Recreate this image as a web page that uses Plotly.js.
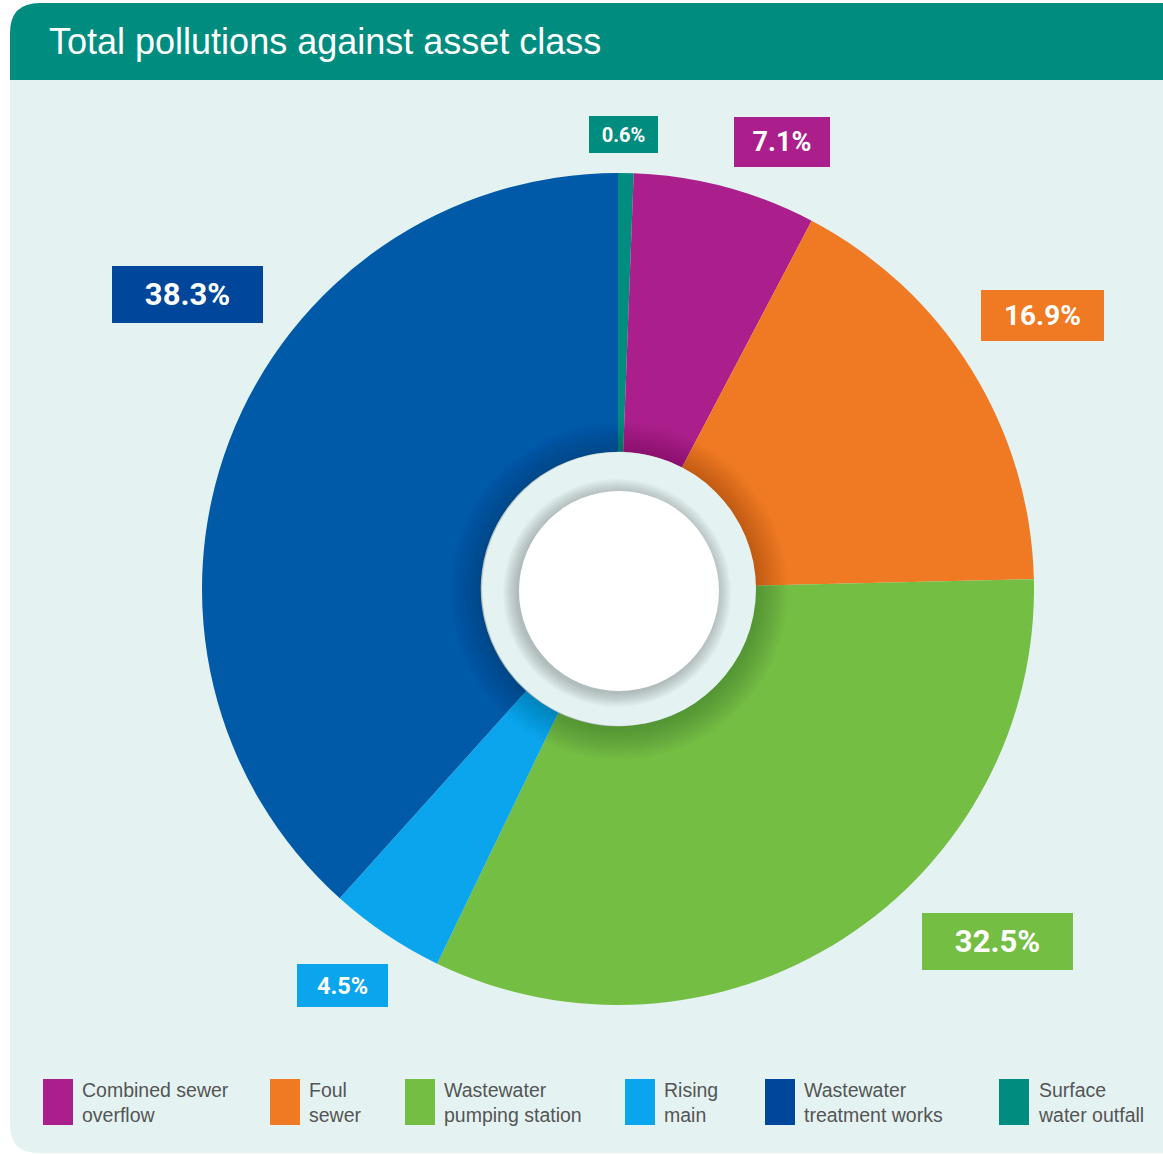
<!DOCTYPE html>
<html>
<head>
<meta charset="utf-8">
<script src="https://cdn.plot.ly/plotly-3.0.1.min.js"></script>
<style>
html,body{margin:0;padding:0;background:#ffffff;}
#chart{width:1163px;height:1154px;}
</style>
</head>
<body>
<div id="chart"></div>
<script>
// ---- data ----
const categories = ["Combined sewer overflow", "Foul sewer", "Wastewater pumping station", "Rising main", "Wastewater treatment works", "Surface water outfall"];
const legendLabels = ["Combined sewer<br>overflow", "Foul<br>sewer", "Wastewater<br>pumping station", "Rising<br>main", "Wastewater<br>treatment works", "Surface<br>water outfall"];
const shares = [7.1, 16.9, 32.5, 4.5, 38.3, 0.6];
const valueLabels = ["7.1%", "16.9%", "32.5%", "4.5%", "38.3%", "0.6%"];

// ---- styles ----
const sliceColors = ["#AA1F8C", "#F07A23", "#74BE44", "#0BA5EE", "#005AA8", "#008C7F"];
const keyColors   = ["#AA1F8C", "#F07A23", "#74BE44", "#0BA5EE", "#00469A", "#008C7F"];
const W = 1163, H = 1154;
const px = x => x / W;
const py = y => 1 - y / H;

// label box geometry (pixel centres, sizes, font sizes)
const boxCX = [782, 1042.5, 997.5, 342.5, 187.5, 623.5];
const boxCY = [142, 315.5, 941.5, 985.5, 294.5, 134.5];
const boxW  = [96, 123, 151, 91, 151, 69];
const boxH  = [50, 51, 57, 43, 57, 37];
const boxF  = [27, 28, 31, 23.5, 31, 20];

// legend geometry
const keyX = [43, 270, 405, 625, 765, 999];

// pie geometry
const cx = 618, cy = 589, R = 416;

// pie order: clockwise from 12 o'clock starting with the smallest (surface water outfall)
const order = [5, 0, 1, 2, 3, 4];

const trace = {
  type: "pie",
  labels: order.map(i => categories[i]),
  values: order.map(i => shares[i]),
  marker: {colors: order.map(i => sliceColors[i]), line: {width: 0}},
  sort: false,
  direction: "clockwise",
  rotation: 0,
  hole: 0.33,
  textinfo: "none",
  hoverinfo: "label+percent",
  showlegend: false,
  domain: {x: [px(cx - R), px(cx + R)], y: [py(cy + R), py(cy - R)]}
};

const shapes = [];
function roundedPath(x0, y0, x1, y1, rtl, rbl) {
  let d = `M ${px(x0 + rtl)} ${py(y0)} L ${px(x1)} ${py(y0)} L ${px(x1)} ${py(y1)} L ${px(x0 + rbl)} ${py(y1)}`;
  if (rbl > 0) d += ` Q ${px(x0)} ${py(y1)} ${px(x0)} ${py(y1 - rbl)}`;
  d += ` L ${px(x0)} ${py(y0 + rtl)}`;
  if (rtl > 0) d += ` Q ${px(x0)} ${py(y0)} ${px(x0 + rtl)} ${py(y0)}`;
  d += " Z";
  return d;
}
shapes.push({type: "path", xref: "paper", yref: "paper", layer: "below", path: roundedPath(10, 80, 1170, 1153, 0, 28), fillcolor: "#E4F3F2", line: {width: 0}});
shapes.push({type: "path", xref: "paper", yref: "paper", layer: "below", path: roundedPath(10, 3, 1170, 80, 30, 0), fillcolor: "#008C7F", line: {width: 0}});

function circle(x, y, r, color) {
  return {type: "circle", xref: "paper", yref: "paper", layer: "above",
    x0: px(x - r), x1: px(x + r), y0: py(y + r), y1: py(y - r),
    fillcolor: color, line: {width: 0}};
}
// soft shadow of ring onto pie
for (let k = 0; k < 16; k++) {
  const r = 137 + 32 - k * 2;
  shapes.push(circle(cx + 1, cy + 2, r, "rgba(0,0,0,0.013)"));
}
// light ring
shapes.push(circle(619, 589, 137, "#E4F3F2"));
// shadow of inner white disc
for (let k = 0; k < 12; k++) {
  const r = 100 + 14 - k * 1.2;
  shapes.push(circle(617, 593, r, "rgba(40,60,60,0.025)"));
}
// white disc
shapes.push(circle(619, 591, 100, "#FFFFFF"));

// legend keys
keyX.forEach((x, i) => {
  shapes.push({type: "rect", xref: "paper", yref: "paper", layer: "above",
    x0: px(x), x1: px(x + 30), y0: py(1125), y1: py(1079),
    fillcolor: keyColors[i], line: {width: 0}});
});

const annotations = [];
valueLabels.forEach((t, i) => {
  annotations.push({
    text: "<b>" + t + "</b>", xref: "paper", yref: "paper",
    x: px(boxCX[i]), y: py(boxCY[i]), xanchor: "center", yanchor: "middle",
    width: boxW[i], height: boxH[i], borderpad: 0, borderwidth: 0,
    bgcolor: keyColors[i], showarrow: false, align: "center", valign: "middle",
    font: {family: "Roboto, 'Liberation Sans', sans-serif", size: boxF[i], color: "#FFFFFF"}
  });
});
legendLabels.forEach((t, i) => {
  annotations.push({
    text: t, xref: "paper", yref: "paper",
    x: px(keyX[i] + 37), y: py(1102), xanchor: "left", yanchor: "middle",
    showarrow: false, align: "left",
    font: {family: "'Liberation Sans', Arial, sans-serif", size: 19.5, color: "#555555"}
  });
});

const layout = {
  width: W, height: H,
  margin: {l: 0, r: 0, t: 0, b: 0},
  paper_bgcolor: "#FFFFFF",
  plot_bgcolor: "rgba(0,0,0,0)",
  title: {
    text: "Total pollutions against asset class",
    x: px(49), xref: "paper", xanchor: "left",
    y: py(41), yref: "paper", yanchor: "middle",
    font: {family: "'Liberation Sans', Arial, sans-serif", size: 36, color: "#FFFFFF"}
  },
  showlegend: false,
  shapes: shapes,
  annotations: annotations
};

Plotly.newPlot("chart", [trace], layout, {displayModeBar: false, staticPlot: true});
</script>
</body>
</html>
